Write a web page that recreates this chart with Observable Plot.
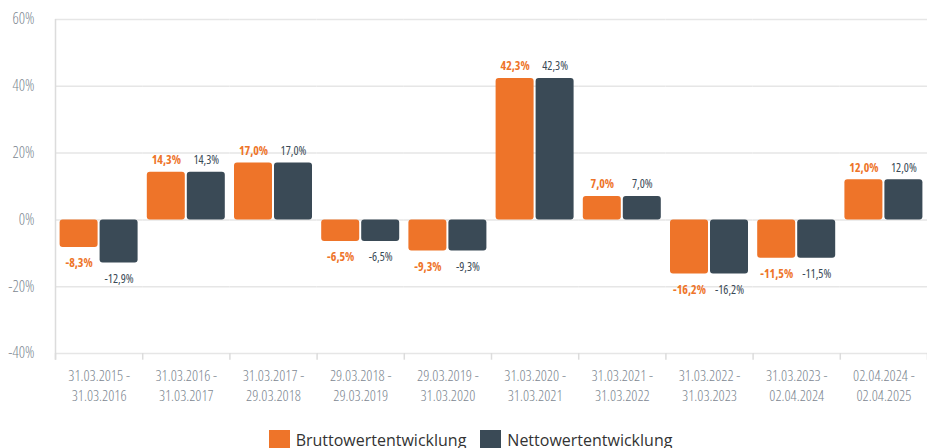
<!DOCTYPE html>
<html><head><meta charset="utf-8">
<script src="https://cdn.jsdelivr.net/npm/d3@7"></script>
<script src="https://cdn.jsdelivr.net/npm/@observablehq/plot@0.6"></script>
<style>
body{margin:0;background:#fff;width:927px;overflow:hidden}
#legend{display:flex;justify-content:center;gap:14px;margin-top:10px;padding-left:14px;font-family:"Open Sans",sans-serif;font-size:16px;color:#333;line-height:20px}
.item{display:flex;align-items:flex-start;gap:6px}
.sw{width:21px;height:20px;display:inline-block}
svg [aria-label="fx-axis tick label"], svg [aria-label="y-axis tick label"]{font-stretch:condensed;font-family:"Liberation Sans Narrow","Open Sans",sans-serif}
svg [aria-label="text"]{font-stretch:87.5%;font-family:"Open Sans",sans-serif}
</style></head>
<body>
<div id="chart"></div>
<div id="legend"></div>
<script>
const periods = ["31.03.2015 - 31.03.2016","31.03.2016 - 31.03.2017","31.03.2017 - 29.03.2018","29.03.2018 - 29.03.2019","29.03.2019 - 31.03.2020","31.03.2020 - 31.03.2021","31.03.2021 - 31.03.2022","31.03.2022 - 31.03.2023","31.03.2023 - 02.04.2024","02.04.2024 - 02.04.2025"];
const seriesNames = ["Bruttowertentwicklung","Nettowertentwicklung"];
const brutto = [-8.3, 14.3, 17.0, -6.5, -9.3, 42.3, 7.0, -16.2, -11.5, 12.0];
const netto = [-12.9, 14.3, 17.0, -6.5, -9.3, 42.3, 7.0, -16.2, -11.5, 12.0];
const yTicks = [-40, -20, 0, 20, 40, 60];
const colors = ["#ee7429", "#3a4a56"];

const data = [];
periods.forEach((p, i) => {
  data.push({period: p, series: seriesNames[0], value: brutto[i]});
  data.push({period: p, series: seriesNames[1], value: netto[i]});
});
const fmt = v => v.toFixed(1).replace(".", ",") + "%";
const lineColor = "#dcdcdc";
const lab = '"Open Sans", sans-serif';

const chart = Plot.plot({
  width: 927, height: 420,
  marginLeft: 55, marginRight: 0, marginTop: 19, marginBottom: 67,
  style: {fontFamily: lab, background: "#fff"},
  fx: {domain: periods, padding: 0, round: false, label: null},
  x: {domain: seriesNames, axis: null, paddingInner: 0.05, paddingOuter: 0.115, round: false},
  y: {domain: [-40, 60], axis: null},
  color: {domain: seriesNames, range: colors},
  marks: [
    Plot.ruleY(yTicks, {stroke: "#e6e6e6", strokeWidth: 1.5}),
    Plot.ruleX([periods[0]], {fx: d => d, x: () => seriesNames[0], dx: -23.6, y1: 60, y2: -42, stroke: lineColor, strokeWidth: 1.5}),
    Plot.ruleX(periods, {fx: d => d, x: () => seriesNames[0], dx: -23.6, y1: -40, y2: -42, stroke: lineColor, strokeWidth: 1.5}),
    Plot.ruleX([periods[periods.length-1]], {fx: d => d, x: () => seriesNames[1], dx: 23.6, y1: -40, y2: -42, stroke: lineColor, strokeWidth: 1.5}),
    Plot.barY(data, {fx: "period", x: "series", y: "value", fill: "series", rx: 3}),
    Plot.text(data.filter(d => d.series === seriesNames[0] && d.value >= 0), {fx: "period", x: "series", y: "value", text: d => fmt(d.value), fill: colors[0], dy: -12, fontSize: 12, fontWeight: 700}),
    Plot.text(data.filter(d => d.series === seriesNames[0] && d.value < 0), {fx: "period", x: "series", y: "value", text: d => fmt(d.value), fill: colors[0], dy: 16, fontSize: 12, fontWeight: 700}),
    Plot.text(data.filter(d => d.series === seriesNames[1] && d.value >= 0), {fx: "period", x: "series", y: "value", text: d => fmt(d.value), fill: colors[1], dy: -12, fontSize: 12, fontWeight: 500}),
    Plot.text(data.filter(d => d.series === seriesNames[1] && d.value < 0), {fx: "period", x: "series", y: "value", text: d => fmt(d.value), fill: colors[1], dy: 16, fontSize: 12, fontWeight: 500}),
    Plot.axisY({ticks: yTicks, anchor: "left", tickSize: 0, tickPadding: 21, tickFormat: d => d + "%", fontSize: 15.5, fill: "#7d8791", fontWeight: 300, label: null}),
    Plot.axisFx({anchor: "bottom", tickSize: 0, tickPadding: 13, fontSize: 15, lineHeight: 1.35, fill: "#7d8791", fontWeight: 300, tickFormat: d => d.replace(" - ", " -\n"), label: null})
  ]
});
document.getElementById("chart").append(chart);

const leg = document.getElementById("legend");
seriesNames.forEach((s, i) => {
  const it = document.createElement("div"); it.className = "item";
  const sw = document.createElement("span"); sw.className = "sw"; sw.style.background = colors[i];
  const t = document.createElement("span"); t.textContent = s;
  it.append(sw, t); leg.append(it);
});
</script>
</body></html>
